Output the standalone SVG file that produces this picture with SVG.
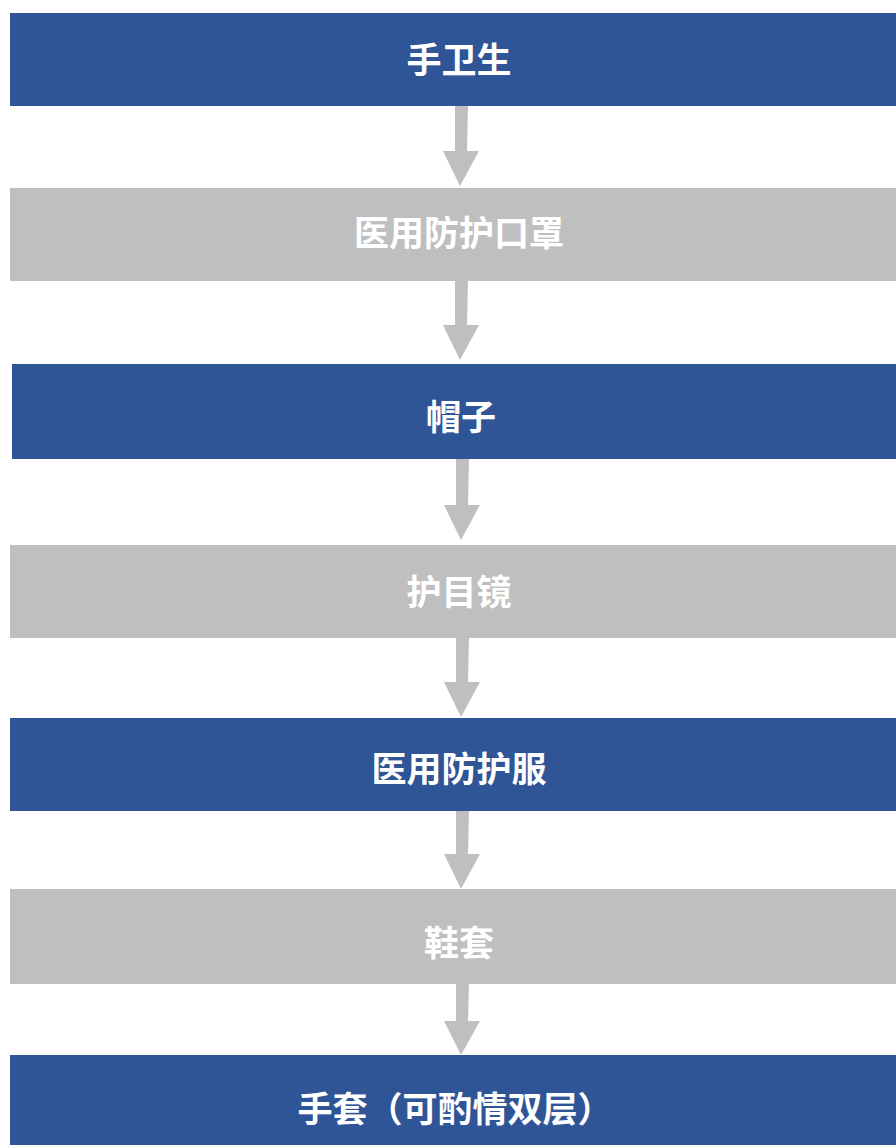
<svg xmlns="http://www.w3.org/2000/svg" width="896" height="1145" viewBox="0 0 896 1145">
<style>
.blue{fill:#2F5597}
.gray{fill:#BFBFBF}
.t{fill:#FFFFFF;font-family:"Noto Sans CJK SC","Noto Sans CJK JP",sans-serif;font-weight:bold;font-size:35px;text-anchor:middle;dominant-baseline:central}
.arr{fill:#BFBFBF}
</style>
<rect width="896" height="1145" fill="#FFFFFF"/>
<g id="connectors">
<polygon class="arr" points="455,105 468,105 467,151 479,151 460,186 443,151 455,151"/>
<polygon class="arr" points="455,280 468,280 467,325 479,325 460,360 443,325 455,325"/>
<polygon class="arr" points="456,458 469,458 468,505 480,505 461,540 444,505 456,505"/>
<polygon class="arr" points="456,637 469,637 468,682 480,682 461,717 444,682 456,682"/>
<polygon class="arr" points="456,810 469,810 468,854 480,854 461,889 444,854 456,854"/>
<polygon class="arr" points="456,983 469,983 468,1021 480,1021 461,1055 444,1021 456,1021"/>
</g>
<g id="n1"><rect class="blue" x="10" y="13" width="886" height="93"/><text class="t" x="459" y="57">手卫生</text></g>
<g id="n2"><rect class="gray" x="10" y="188" width="886" height="93"/><text class="t" x="459" y="230">医用防护口罩</text></g>
<g id="n3"><rect class="blue" x="12" y="364" width="884" height="95"/><text class="t" x="461" y="414">帽子</text></g>
<g id="n4"><rect class="gray" x="10" y="545" width="886" height="93"/><text class="t" x="459" y="589">护目镜</text></g>
<g id="n5"><rect class="blue" x="10" y="718" width="886" height="93"/><text class="t" x="459" y="766">医用防护服</text></g>
<g id="n6"><rect class="gray" x="10" y="889" width="886" height="95"/><text class="t" x="459" y="940">鞋套</text></g>
<g id="n7"><rect class="blue" x="10" y="1055" width="886" height="90"/><text class="t" x="455" y="1106">手套（可酌情双层）</text></g>
</svg>
